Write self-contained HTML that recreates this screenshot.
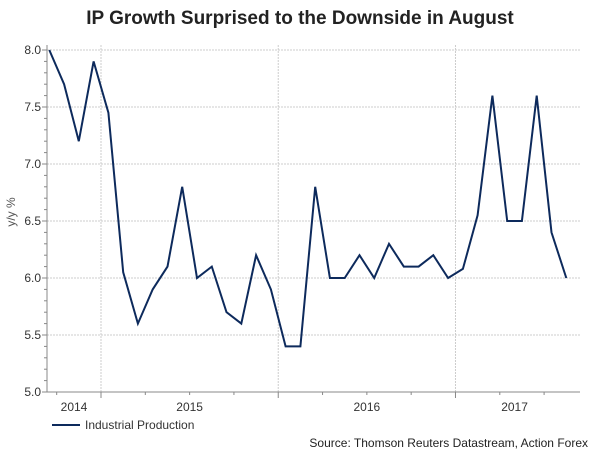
<!DOCTYPE html>
<html><head><meta charset="utf-8"><style>
body{margin:0;background:#fff;font-family:"Liberation Sans",Arial,sans-serif;}
svg text{font-family:"Liberation Sans",Arial,sans-serif;}
</style></head><body>
<svg id="chart" width="600" height="451" viewBox="0 0 600 451" xmlns="http://www.w3.org/2000/svg">
<text x="300" y="24" text-anchor="middle" font-size="19" font-weight="bold" fill="#222">IP Growth Surprised to the Downside in August</text>
<g id="grid"></g>
<g id="axes"></g>
<path id="line" fill="none" stroke="#0d2a5c" stroke-width="2" stroke-linejoin="miter"/>
<text transform="translate(15,212) rotate(-90)" text-anchor="middle" font-size="12" fill="#555">y/y %</text>
<line x1="52" y1="425" x2="80" y2="425" stroke="#0d2a5c" stroke-width="2"/>
<text x="85" y="429" font-size="12" fill="#333">Industrial Production</text>
<text x="588" y="447" text-anchor="end" font-size="12" fill="#222">Source: Thomson Reuters Datastream, Action Forex</text>
</svg>
<script>
const values=[8.0,7.7,7.2,7.9,7.45,6.05,5.6,5.9,6.1,6.8,6.0,6.1,5.7,5.6,6.2,5.9,5.4,5.4,6.8,6.0,6.0,6.2,6.0,6.3,6.1,6.1,6.2,6.0,6.08,6.55,7.6,6.5,6.5,7.6,6.4,6.0];
const yTicks=[5.0,5.5,6.0,6.5,7.0,7.5,8.0];
const yearLabels=["2014","2015","2016","2017"];
const firstMonthOffset=-4; // Sep 2014 relative to Jan 2015
const NS="http://www.w3.org/2000/svg";
const X0=101, MW=14.77, Y0=392, YS=114, XL=47, XR=580;
function xm(i){return X0+(i+firstMonthOffset+0.5)*MW;}
function xb(m){return X0+m*MW;}
function y(v){return Y0-(v-5)*YS;}
function mk(tag,attrs,parent){const e=document.createElementNS(NS,tag);for(const k in attrs)e.setAttribute(k,attrs[k]);parent.appendChild(e);return e;}
const grid=document.getElementById('grid'),axes=document.getElementById('axes');
yTicks.forEach(v=>{
  if(v>5){const g=mk('line',{x1:XL,x2:XR,y1:y(v),y2:y(v),stroke:'#ccc','stroke-dasharray':'2,1'},grid);
  
  }
  const t=mk('text',{x:XL-6,y:y(v)+4,'text-anchor':'end','font-size':12,fill:'#333'},axes);
  t.textContent=v.toFixed(1);
  
  
  for(let k=1;k<5&&v<8;k++){mk('line',{x1:XL-3,x2:XL,y1:y(v+k*0.1),y2:y(v+k*0.1),stroke:'#888'},axes);}
  mk('line',{x1:XL-5,x2:XL,y1:y(v),y2:y(v),stroke:'#888'},axes);
});
for(let yr=0;yr<3;yr++){
  const xx=xb(yr*12);
  const g=mk('line',{x1:xx,x2:xx,y1:45,y2:Y0,stroke:'#ccc','stroke-dasharray':'2,1'},grid);
  
  
  mk('line',{x1:xx,x2:xx,y1:Y0,y2:Y0+6,stroke:'#888'},axes);
}
for(let m=-3;m<=33;m+=3){if(m%12!==0){const xx=xb(m);if(xx>XL&&xx<XR)mk('line',{x1:xx,x2:xx,y1:Y0,y2:Y0+3,stroke:'#888'},axes);}}
const labX=[(XL+xb(0))/2,(xb(0)+xb(12))/2,(xb(12)+xb(24))/2,(xb(24)+xb(32))/2];
yearLabels.forEach((l,i)=>{const t=mk('text',{x:labX[i],y:Y0+19,'text-anchor':'middle','font-size':12,fill:'#333'},axes);
  t.textContent=l;
  
  });
const a1=mk('line',{x1:XL,x2:XL,y1:45,y2:Y0,stroke:'#888'},axes);


const a2=mk('line',{x1:XL,x2:XR,y1:Y0,y2:Y0,stroke:'#888'},axes);


document.getElementById('line').setAttribute('d',values.map((v,i)=>(i?'L':'M')+xm(i).toFixed(1)+','+y(v).toFixed(1)).join(''));
</script>
</body></html>
